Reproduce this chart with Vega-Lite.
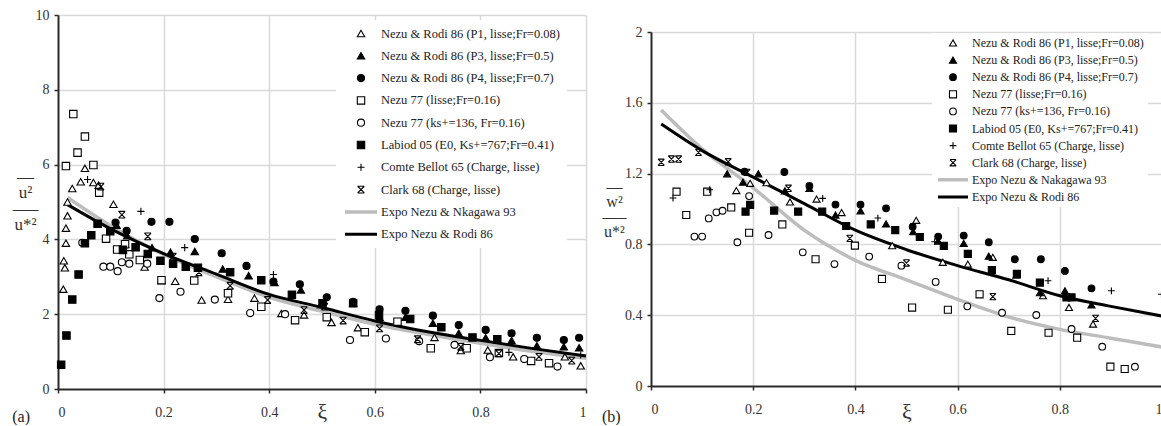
{
"$schema": "https://vega.github.io/schema/vega-lite/v6.json",
"background": "white",
"padding": {"left": 12, "top": 8, "right": 0, "bottom": 0},
"spacing": 9,
"config": {
  "view": {"stroke": null},
  "font": "Liberation Serif",
  "axis": {"labelFont": "Liberation Serif", "labelFontSize": 14, "labelColor": "#333", "domainColor": "#2a2a2a", "domainWidth": 2, "tickColor": "#2a2a2a", "tickSize": 4, "tickWidth": 1.5, "gridColor": "#d9d9d9", "gridWidth": 1.5, "gridOpacity": {"condition": {"test": "datum.value === 0", "value": 0}, "value": 1}, "titleFont": "Liberation Serif", "titleFontWeight": "normal", "titleColor": "#333"},
  "axisX": {"labelPadding": 12, "titleFontSize": 22, "titleBaseline": "middle", "titleY": 22},
  "axisY": {"labelPadding": 5, "titleAngle": 0, "titleAlign": "center", "titleBaseline": "alphabetic"},
  "legend": {"labelFont": "Liberation Serif", "labelColor": "#222", "labelLimit": 400, "fillColor": "white", "labelOffset": 2, "symbolOffset": 0},
  "title": {"font": "Liberation Serif", "fontSize": 16, "fontWeight": "normal", "color": "#222", "orient": "bottom", "anchor": "start", "frame": "bounds", "offset": 0, "dy": -17}
},
"datasets": {
  "na": [
    {"s": "P1", "name": "Nezu & Rodi 86 (P1, lisse;Fr=0.08)"},
    {"s": "P3", "name": "Nezu & Rodi 86 (P3, lisse;Fr=0.5)"},
    {"s": "P4", "name": "Nezu & Rodi 86 (P4, lisse;Fr=0.7)"},
    {"s": "N77", "name": "Nezu 77 (lisse;Fr=0.16)"},
    {"s": "N77ks", "name": "Nezu 77 (ks+=136, Fr=0.16)"},
    {"s": "Lab", "name": "Labiod 05 (E0, Ks+=767;Fr=0.41)"},
    {"s": "CB", "name": "Comte Bellot 65 (Charge, lisse)"},
    {"s": "Cl", "name": "Clark 68 (Charge, lisse)"},
    {"s": "ExNk", "name": "Expo Nezu & Nkagawa 93"},
    {"s": "ExNR", "name": "Expo Nezu & Rodi 86"}
  ],
  "nb": [
    {"s": "P1", "name": "Nezu & Rodi 86 (P1, lisse;Fr=0.08)"},
    {"s": "P3", "name": "Nezu & Rodi 86 (P3, lisse;Fr=0.5)"},
    {"s": "P4", "name": "Nezu & Rodi 86 (P4, lisse;Fr=0.7)"},
    {"s": "N77", "name": "Nezu 77 (lisse;Fr=0.16)"},
    {"s": "N77ks", "name": "Nezu 77 (ks+=136, Fr=0.16)"},
    {"s": "Lab", "name": "Labiod 05 (E0, Ks+=767;Fr=0.41)"},
    {"s": "CB", "name": "Comte Bellot 65 (Charge, lisse)"},
    {"s": "Cl", "name": "Clark 68 (Charge, lisse)"},
    {"s": "ExNk", "name": "Expo Nezu & Nakagawa 93"},
    {"s": "ExNR", "name": "Expo Nezu & Rodi 86"}
  ],
  "pa": [
    {"s":"P1","x":0.010,"y":2.67},{"s":"P1","x":0.011,"y":3.43},{"s":"P1","x":0.013,"y":3.24},{"s":"P1","x":0.015,"y":3.9},{"s":"P1","x":0.015,"y":4.3},{"s":"P1","x":0.018,"y":4.63},{"s":"P1","x":0.018,"y":5.0},{"s":"P1","x":0.027,"y":5.36},{"s":"P1","x":0.043,"y":5.54},{"s":"P1","x":0.051,"y":5.9},{"s":"P1","x":0.067,"y":5.52},{"s":"P1","x":0.077,"y":5.45},{"s":"P1","x":0.105,"y":4.94},{"s":"P1","x":0.127,"y":3.87},{"s":"P1","x":0.164,"y":3.26},{"s":"P1","x":0.196,"y":2.9},{"s":"P1","x":0.222,"y":2.88},{"s":"P1","x":0.272,"y":2.38},{"s":"P1","x":0.322,"y":2.4},{"s":"P1","x":0.372,"y":2.43},{"s":"P1","x":0.423,"y":2.02},{"s":"P1","x":0.466,"y":1.98},{"s":"P1","x":0.518,"y":1.78},{"s":"P1","x":0.568,"y":1.64},{"s":"P1","x":0.713,"y":1.38},{"s":"P1","x":0.763,"y":1.03},{"s":"P1","x":0.814,"y":1.04},{"s":"P1","x":0.862,"y":0.86},{"s":"P1","x":0.96,"y":0.86},{"s":"P1","x":0.99,"y":0.62},
    {"s":"P3","x":0.111,"y":4.38},{"s":"P3","x":0.131,"y":4.1},{"s":"P3","x":0.178,"y":3.78},{"s":"P3","x":0.213,"y":3.66},{"s":"P3","x":0.259,"y":3.68},{"s":"P3","x":0.312,"y":3.21},{"s":"P3","x":0.361,"y":3.03},{"s":"P3","x":0.41,"y":2.85},{"s":"P3","x":0.46,"y":2.65},{"s":"P3","x":0.498,"y":2.25},{"s":"P3","x":0.559,"y":2.3},{"s":"P3","x":0.609,"y":1.92},{"s":"P3","x":0.658,"y":1.92},{"s":"P3","x":0.71,"y":1.76},{"s":"P3","x":0.759,"y":1.49},{"s":"P3","x":0.81,"y":1.37},{"s":"P3","x":0.859,"y":1.3},{"s":"P3","x":0.907,"y":1.16},{"s":"P3","x":0.958,"y":1.13},{"s":"P3","x":0.987,"y":1.1},
    {"s":"P4","x":0.109,"y":4.45},{"s":"P4","x":0.13,"y":4.23},{"s":"P4","x":0.177,"y":4.47},{"s":"P4","x":0.211,"y":4.47},{"s":"P4","x":0.259,"y":4.01},{"s":"P4","x":0.31,"y":3.63},{"s":"P4","x":0.357,"y":3.29},{"s":"P4","x":0.408,"y":2.87},{"s":"P4","x":0.458,"y":2.8},{"s":"P4","x":0.509,"y":2.45},{"s":"P4","x":0.559,"y":2.33},{"s":"P4","x":0.609,"y":2.13},{"s":"P4","x":0.658,"y":2.09},{"s":"P4","x":0.71,"y":1.96},{"s":"P4","x":0.759,"y":1.71},{"s":"P4","x":0.81,"y":1.58},{"s":"P4","x":0.859,"y":1.49},{"s":"P4","x":0.907,"y":1.37},{"s":"P4","x":0.958,"y":1.31},{"s":"P4","x":0.987,"y":1.37},
    {"s":"N77","x":0.015,"y":5.96},{"s":"N77","x":0.029,"y":7.35},{"s":"N77","x":0.037,"y":6.32},{"s":"N77","x":0.051,"y":6.75},{"s":"N77","x":0.067,"y":5.99},{"s":"N77","x":0.078,"y":5.25},{"s":"N77","x":0.091,"y":4.02},{"s":"N77","x":0.112,"y":3.73},{"s":"N77","x":0.127,"y":3.87},{"s":"N77","x":0.135,"y":3.6},{"s":"N77","x":0.155,"y":3.45},{"s":"N77","x":0.196,"y":2.91},{"s":"N77","x":0.258,"y":2.9},{"s":"N77","x":0.322,"y":2.56},{"s":"N77","x":0.385,"y":2.2},{"s":"N77","x":0.449,"y":1.84},{"s":"N77","x":0.509,"y":1.92},{"s":"N77","x":0.581,"y":1.52},{"s":"N77","x":0.643,"y":1.8},{"s":"N77","x":0.706,"y":1.09},{"s":"N77","x":0.774,"y":1.09},{"s":"N77","x":0.835,"y":0.96},{"s":"N77","x":0.896,"y":0.75},{"s":"N77","x":0.93,"y":0.69},
    {"s":"N77ks","x":0.046,"y":3.91},{"s":"N77ks","x":0.086,"y":3.27},{"s":"N77ks","x":0.099,"y":3.27},{"s":"N77ks","x":0.113,"y":3.15},{"s":"N77ks","x":0.121,"y":3.39},{"s":"N77ks","x":0.135,"y":3.35},{"s":"N77ks","x":0.169,"y":3.35},{"s":"N77ks","x":0.192,"y":2.43},{"s":"N77ks","x":0.232,"y":2.6},{"s":"N77ks","x":0.297,"y":2.39},{"s":"N77ks","x":0.364,"y":2.03},{"s":"N77ks","x":0.43,"y":2.0},{"s":"N77ks","x":0.553,"y":1.31},{"s":"N77ks","x":0.621,"y":1.35},{"s":"N77ks","x":0.684,"y":1.28},{"s":"N77ks","x":0.751,"y":1.18},{"s":"N77ks","x":0.818,"y":0.85},{"s":"N77ks","x":0.883,"y":0.8},{"s":"N77ks","x":0.946,"y":0.6},
    {"s":"Lab","x":0.006,"y":0.65},{"s":"Lab","x":0.016,"y":1.43},{"s":"Lab","x":0.027,"y":2.39},{"s":"Lab","x":0.039,"y":3.06},{"s":"Lab","x":0.051,"y":3.9},{"s":"Lab","x":0.063,"y":4.11},{"s":"Lab","x":0.075,"y":4.42},{"s":"Lab","x":0.099,"y":4.22},{"s":"Lab","x":0.123,"y":3.72},{"s":"Lab","x":0.147,"y":3.79},{"s":"Lab","x":0.17,"y":3.61},{"s":"Lab","x":0.194,"y":3.43},{"s":"Lab","x":0.218,"y":3.35},{"s":"Lab","x":0.242,"y":3.27},{"s":"Lab","x":0.265,"y":3.24},{"s":"Lab","x":0.326,"y":3.12},{"s":"Lab","x":0.385,"y":2.91},{"s":"Lab","x":0.443,"y":2.52},{"s":"Lab","x":0.501,"y":2.29},{"s":"Lab","x":0.559,"y":2.29},{"s":"Lab","x":0.608,"y":1.98},{"s":"Lab","x":0.667,"y":1.87},{"s":"Lab","x":0.726,"y":1.65},{"s":"Lab","x":0.785,"y":1.38},{"s":"Lab","x":0.832,"y":1.33},
    {"s":"CB","x":0.056,"y":5.6},{"s":"CB","x":0.157,"y":4.75},{"s":"CB","x":0.24,"y":3.78},{"s":"CB","x":0.408,"y":3.06},{"s":"CB","x":0.854,"y":0.98},{"s":"CB","x":0.99,"y":0.91},
    {"s":"Cl","x":0.081,"y":5.41},{"s":"Cl","x":0.121,"y":4.66},{"s":"Cl","x":0.17,"y":4.08},{"s":"Cl","x":0.218,"y":3.54},{"s":"Cl","x":0.267,"y":3.12},{"s":"Cl","x":0.326,"y":2.76},{"s":"Cl","x":0.397,"y":2.38},{"s":"Cl","x":0.466,"y":2.11},{"s":"Cl","x":0.505,"y":2.2},{"s":"Cl","x":0.54,"y":1.83},{"s":"Cl","x":0.609,"y":1.62},{"s":"Cl","x":0.681,"y":1.33},{"s":"Cl","x":0.763,"y":1.13},{"s":"Cl","x":0.835,"y":0.95},{"s":"Cl","x":0.911,"y":0.86},{"s":"Cl","x":0.973,"y":0.76}
  ],
  "ca": [
    {"s":"ExNk","x":0.018,"y":5.12},{"s":"ExNk","x":0.1,"y":4.36},{"s":"ExNk","x":0.2,"y":3.6},{"s":"ExNk","x":0.3,"y":3.0},{"s":"ExNk","x":0.4,"y":2.45},{"s":"ExNk","x":0.5,"y":2.08},{"s":"ExNk","x":0.6,"y":1.73},{"s":"ExNk","x":0.7,"y":1.46},{"s":"ExNk","x":0.8,"y":1.22},{"s":"ExNk","x":0.9,"y":1.0},{"s":"ExNk","x":1.0,"y":0.82},
    {"s":"ExNR","x":0.018,"y":4.93},{"s":"ExNR","x":0.1,"y":4.28},{"s":"ExNR","x":0.2,"y":3.62},{"s":"ExNR","x":0.3,"y":3.07},{"s":"ExNR","x":0.4,"y":2.53},{"s":"ExNR","x":0.5,"y":2.18},{"s":"ExNR","x":0.6,"y":1.82},{"s":"ExNR","x":0.7,"y":1.53},{"s":"ExNR","x":0.8,"y":1.3},{"s":"ExNR","x":0.9,"y":1.08},{"s":"ExNR","x":1.0,"y":0.88}
  ],
  "pb": [
    {"s":"P1","x":0.167,"y":1.104},{"s":"P1","x":0.194,"y":1.145},{"s":"P1","x":0.226,"y":1.149},{"s":"P1","x":0.272,"y":1.04},{"s":"P1","x":0.324,"y":1.056},{"s":"P1","x":0.373,"y":0.98},{"s":"P1","x":0.472,"y":0.793},{"s":"P1","x":0.519,"y":0.936},{"s":"P1","x":0.571,"y":0.699},{"s":"P1","x":0.62,"y":0.689},{"s":"P1","x":0.669,"y":0.727},{"s":"P1","x":0.767,"y":0.51},{"s":"P1","x":0.818,"y":0.444},{"s":"P1","x":0.865,"y":0.35},
    {"s":"P3","x":0.149,"y":1.199},{"s":"P3","x":0.18,"y":1.152},{"s":"P3","x":0.21,"y":1.199},{"s":"P3","x":0.262,"y":1.103},{"s":"P3","x":0.31,"y":1.117},{"s":"P3","x":0.361,"y":0.966},{"s":"P3","x":0.41,"y":0.99},{"s":"P3","x":0.46,"y":0.916},{"s":"P3","x":0.513,"y":0.872},{"s":"P3","x":0.562,"y":0.819},{"s":"P3","x":0.612,"y":0.806},{"s":"P3","x":0.661,"y":0.734},{"s":"P3","x":0.715,"y":0.627},{"s":"P3","x":0.761,"y":0.527},{"s":"P3","x":0.81,"y":0.538},{"s":"P3","x":0.862,"y":0.458},
    {"s":"P4","x":0.183,"y":1.211},{"s":"P4","x":0.261,"y":1.209},{"s":"P4","x":0.31,"y":1.13},{"s":"P4","x":0.361,"y":1.025},{"s":"P4","x":0.41,"y":1.025},{"s":"P4","x":0.46,"y":1.004},{"s":"P4","x":0.512,"y":0.9},{"s":"P4","x":0.562,"y":0.844},{"s":"P4","x":0.612,"y":0.85},{"s":"P4","x":0.661,"y":0.812},{"s":"P4","x":0.712,"y":0.716},{"s":"P4","x":0.763,"y":0.716},{"s":"P4","x":0.81,"y":0.65},{"s":"P4","x":0.862,"y":0.552},
    {"s":"N77","x":0.05,"y":1.098},{"s":"N77","x":0.069,"y":0.966},{"s":"N77","x":0.11,"y":1.098},{"s":"N77","x":0.157,"y":1.009},{"s":"N77","x":0.192,"y":0.866},{"s":"N77","x":0.257,"y":0.913},{"s":"N77","x":0.322,"y":0.716},{"s":"N77","x":0.399,"y":0.793},{"s":"N77","x":0.452,"y":0.605},{"s":"N77","x":0.511,"y":0.443},{"s":"N77","x":0.581,"y":0.431},{"s":"N77","x":0.643,"y":0.518},{"s":"N77","x":0.705,"y":0.311},{"s":"N77","x":0.778,"y":0.301},{"s":"N77","x":0.834,"y":0.273},{"s":"N77","x":0.899,"y":0.109},{"s":"N77","x":0.927,"y":0.096},
    {"s":"N77ks","x":0.085,"y":0.844},{"s":"N77ks","x":0.1,"y":0.844},{"s":"N77ks","x":0.113,"y":0.947},{"s":"N77ks","x":0.128,"y":0.981},{"s":"N77ks","x":0.14,"y":0.99},{"s":"N77ks","x":0.169,"y":0.812},{"s":"N77ks","x":0.192,"y":1.073},{"s":"N77ks","x":0.23,"y":0.853},{"s":"N77ks","x":0.297,"y":0.755},{"s":"N77ks","x":0.359,"y":0.689},{"s":"N77ks","x":0.427,"y":0.731},{"s":"N77ks","x":0.49,"y":0.68},{"s":"N77ks","x":0.557,"y":0.588},{"s":"N77ks","x":0.619,"y":0.45},{"s":"N77ks","x":0.687,"y":0.414},{"s":"N77ks","x":0.754,"y":0.401},{"s":"N77ks","x":0.823,"y":0.322},{"s":"N77ks","x":0.883,"y":0.222},{"s":"N77ks","x":0.947,"y":0.109},
    {"s":"Lab","x":0.185,"y":0.985},{"s":"Lab","x":0.194,"y":1.023},{"s":"Lab","x":0.241,"y":0.991},{"s":"Lab","x":0.288,"y":0.985},{"s":"Lab","x":0.335,"y":0.985},{"s":"Lab","x":0.382,"y":0.904},{"s":"Lab","x":0.43,"y":0.913},{"s":"Lab","x":0.478,"y":0.881},{"s":"Lab","x":0.526,"y":0.842},{"s":"Lab","x":0.573,"y":0.792},{"s":"Lab","x":0.62,"y":0.746},{"s":"Lab","x":0.667,"y":0.655},{"s":"Lab","x":0.716,"y":0.633},{"s":"Lab","x":0.761,"y":0.584},{"s":"Lab","x":0.813,"y":0.501},{"s":"Lab","x":0.823,"y":0.501},
    {"s":"CB","x":0.043,"y":1.062},{"s":"CB","x":0.115,"y":1.109},{"s":"CB","x":0.336,"y":1.06},{"s":"CB","x":0.444,"y":0.949},{"s":"CB","x":0.555,"y":0.815},{"s":"CB","x":0.777,"y":0.595},{"s":"CB","x":0.901,"y":0.538},{"s":"CB","x":0.999,"y":0.518},
    {"s":"Cl","x":0.02,"y":1.264},{"s":"Cl","x":0.04,"y":1.282},{"s":"Cl","x":0.054,"y":1.282},{"s":"Cl","x":0.093,"y":1.32},{"s":"Cl","x":0.151,"y":1.267},{"s":"Cl","x":0.188,"y":1.207},{"s":"Cl","x":0.269,"y":1.117},{"s":"Cl","x":0.389,"y":0.834},{"s":"Cl","x":0.5,"y":0.695},{"s":"Cl","x":0.669,"y":0.505},{"s":"Cl","x":0.87,"y":0.382}
  ],
  "cb": [
    {"s":"ExNk","x":0.02,"y":1.56},{"s":"ExNk","x":0.1,"y":1.34},{"s":"ExNk","x":0.2,"y":1.12},{"s":"ExNk","x":0.3,"y":0.88},{"s":"ExNk","x":0.4,"y":0.71},{"s":"ExNk","x":0.5,"y":0.6},{"s":"ExNk","x":0.6,"y":0.49},{"s":"ExNk","x":0.7,"y":0.39},{"s":"ExNk","x":0.8,"y":0.32},{"s":"ExNk","x":0.9,"y":0.27},{"s":"ExNk","x":1.0,"y":0.22},
    {"s":"ExNR","x":0.02,"y":1.48},{"s":"ExNR","x":0.1,"y":1.33},{"s":"ExNR","x":0.2,"y":1.18},{"s":"ExNR","x":0.3,"y":1.03},{"s":"ExNR","x":0.4,"y":0.88},{"s":"ExNR","x":0.5,"y":0.77},{"s":"ExNR","x":0.6,"y":0.68},{"s":"ExNR","x":0.7,"y":0.6},{"s":"ExNR","x":0.8,"y":0.51},{"s":"ExNR","x":0.9,"y":0.45},{"s":"ExNR","x":1.0,"y":0.395}
  ]
},
"resolve": {"scale": {"shape": "independent", "fill": "independent", "stroke": "independent", "size": "independent", "strokeWidth": "independent"}, "legend": {"shape": "independent", "fill": "independent", "stroke": "independent", "size": "independent", "strokeWidth": "independent"}},
"hconcat": [
{
  "width": 528, "height": 374,
  "title": {"text": "(a)"},
  "encoding": {
    "x": {"field": "x", "type": "quantitative", "scale": {"domain": [0, 1], "nice": false}, "axis": {"values": [0, 0.2, 0.4, 0.6, 0.8, 1], "format": ".1~f", "title": "ξ"}},
    "y": {"field": "y", "type": "quantitative", "scale": {"domain": [0, 10], "nice": false}, "axis": {"values": [0, 2, 4, 6, 8, 10], "title": ["—", "u²", "—–", "u*²"], "titleX": -33, "titleY": 166, "titleLineHeight": 16, "titleFontSize": 17}},
    "stroke": {"field": "name", "type": "nominal", "title": null, "scale": {"domain": ["Nezu & Rodi 86 (P1, lisse;Fr=0.08)", "Nezu & Rodi 86 (P3, lisse;Fr=0.5)", "Nezu & Rodi 86 (P4, lisse;Fr=0.7)", "Nezu 77 (lisse;Fr=0.16)", "Nezu 77 (ks+=136, Fr=0.16)", "Labiod 05 (E0, Ks+=767;Fr=0.41)", "Comte Bellot 65 (Charge, lisse)", "Clark 68 (Charge, lisse)", "Expo Nezu & Nkagawa 93", "Expo Nezu & Rodi 86"], "range": ["black", "black", "black", "black", "black", "black", "black", "black", "#bdbdbd", "black"]}, "legend": {"orient": "none", "legendX": 278, "legendY": 5, "padding": 7, "rowPadding": 9.3, "clipHeight": 13, "labelFontSize": 12.5}},
    "strokeWidth": {"field": "name", "type": "nominal", "title": null, "scale": {"type": "ordinal", "domain": ["Nezu & Rodi 86 (P1, lisse;Fr=0.08)", "Nezu & Rodi 86 (P3, lisse;Fr=0.5)", "Nezu & Rodi 86 (P4, lisse;Fr=0.7)", "Nezu 77 (lisse;Fr=0.16)", "Nezu 77 (ks+=136, Fr=0.16)", "Labiod 05 (E0, Ks+=767;Fr=0.41)", "Comte Bellot 65 (Charge, lisse)", "Clark 68 (Charge, lisse)", "Expo Nezu & Nkagawa 93", "Expo Nezu & Rodi 86"], "range": [1.1, 1.1, 1.1, 1.1, 1.1, 1.1, 1.1, 1.1, 3.5, 3]}, "legend": {"orient": "none", "legendX": 278, "legendY": 5, "padding": 7, "rowPadding": 9.3, "clipHeight": 13, "labelFontSize": 12.5}}
  },
  "layer": [
    {
      "data": {"name": "ca"},
      "transform": [{"lookup": "s", "from": {"data": {"name": "na"}, "key": "s", "fields": ["name"]}}],
      "mark": {"type": "line", "interpolate": "monotone"}
    },
    {
      "data": {"name": "pa"},
      "transform": [{"lookup": "s", "from": {"data": {"name": "na"}, "key": "s", "fields": ["name"]}}],
      "mark": {"type": "point", "opacity": 1},
      "encoding": {
        "shape": {"field": "name", "type": "nominal", "title": null, "scale": {"domain": ["Nezu & Rodi 86 (P1, lisse;Fr=0.08)", "Nezu & Rodi 86 (P3, lisse;Fr=0.5)", "Nezu & Rodi 86 (P4, lisse;Fr=0.7)", "Nezu 77 (lisse;Fr=0.16)", "Nezu 77 (ks+=136, Fr=0.16)", "Labiod 05 (E0, Ks+=767;Fr=0.41)", "Comte Bellot 65 (Charge, lisse)", "Clark 68 (Charge, lisse)", "Expo Nezu & Nkagawa 93", "Expo Nezu & Rodi 86"], "range": ["triangle-up", "triangle-up", "circle", "square", "circle", "square", "M-1,0H1M0,-1V1", "M-1,-1L1,1M1,-1L-1,1M-1,-1H1M-1,1H1", "stroke", "stroke"]}, "legend": {"orient": "none", "legendX": 278, "legendY": 5, "padding": 7, "rowPadding": 9.3, "clipHeight": 13, "labelFontSize": 12.5}},
        "fill": {"field": "name", "type": "nominal", "title": null, "scale": {"domain": ["Nezu & Rodi 86 (P1, lisse;Fr=0.08)", "Nezu & Rodi 86 (P3, lisse;Fr=0.5)", "Nezu & Rodi 86 (P4, lisse;Fr=0.7)", "Nezu 77 (lisse;Fr=0.16)", "Nezu 77 (ks+=136, Fr=0.16)", "Labiod 05 (E0, Ks+=767;Fr=0.41)", "Comte Bellot 65 (Charge, lisse)", "Clark 68 (Charge, lisse)", "Expo Nezu & Nkagawa 93", "Expo Nezu & Rodi 86"], "range": ["white", "black", "black", "white", "white", "black", "transparent", "transparent", "transparent", "transparent"]}, "legend": {"orient": "none", "legendX": 278, "legendY": 5, "padding": 7, "rowPadding": 9.3, "clipHeight": 13, "labelFontSize": 12.5}},
        "size": {"field": "name", "type": "nominal", "title": null, "scale": {"type": "ordinal", "domain": ["Nezu & Rodi 86 (P1, lisse;Fr=0.08)", "Nezu & Rodi 86 (P3, lisse;Fr=0.5)", "Nezu & Rodi 86 (P4, lisse;Fr=0.7)", "Nezu 77 (lisse;Fr=0.16)", "Nezu 77 (ks+=136, Fr=0.16)", "Labiod 05 (E0, Ks+=767;Fr=0.41)", "Comte Bellot 65 (Charge, lisse)", "Clark 68 (Charge, lisse)", "Expo Nezu & Nkagawa 93", "Expo Nezu & Rodi 86"], "range": [55, 55, 50, 55, 50, 55, 50, 45, 1024, 1024]}, "legend": {"orient": "none", "legendX": 278, "legendY": 5, "padding": 7, "rowPadding": 9.3, "clipHeight": 13, "labelFontSize": 12.5}}
      }
    }
  ]
},
{
  "spacing": 0,
  "vconcat": [
    {"width": 10, "height": 10, "data": {"values": []}, "mark": "point"},
    {
      "width": 511, "height": 354,
      "title": {"text": "(b)"},
      "encoding": {
        "x": {"field": "x", "type": "quantitative", "scale": {"domain": [0, 1], "nice": false}, "axis": {"values": [0, 0.2, 0.4, 0.6, 0.8, 1], "format": ".1~f", "title": "ξ", "titleY": 25}},
        "y": {"field": "y", "type": "quantitative", "scale": {"domain": [0, 2], "nice": false}, "axis": {"values": [0, 0.4, 0.8, 1.2, 1.6, 2], "format": ".1~f", "title": ["—", "w²", "—–", "u*²"], "titleX": -37, "titleY": 159, "titleLineHeight": 15, "titleFontSize": 16}},
        "stroke": {"field": "name", "type": "nominal", "title": null, "scale": {"domain": ["Nezu & Rodi 86 (P1, lisse;Fr=0.08)", "Nezu & Rodi 86 (P3, lisse;Fr=0.5)", "Nezu & Rodi 86 (P4, lisse;Fr=0.7)", "Nezu 77 (lisse;Fr=0.16)", "Nezu 77 (ks+=136, Fr=0.16)", "Labiod 05 (E0, Ks+=767;Fr=0.41)", "Comte Bellot 65 (Charge, lisse)", "Clark 68 (Charge, lisse)", "Expo Nezu & Nakagawa 93", "Expo Nezu & Rodi 86"], "range": ["black", "black", "black", "black", "black", "black", "black", "black", "#bdbdbd", "black"]}, "legend": {"orient": "none", "legendX": 281, "legendY": 18, "padding": 4, "rowPadding": 5.1, "clipHeight": 12, "labelFontSize": 12}},
        "strokeWidth": {"field": "name", "type": "nominal", "title": null, "scale": {"type": "ordinal", "domain": ["Nezu & Rodi 86 (P1, lisse;Fr=0.08)", "Nezu & Rodi 86 (P3, lisse;Fr=0.5)", "Nezu & Rodi 86 (P4, lisse;Fr=0.7)", "Nezu 77 (lisse;Fr=0.16)", "Nezu 77 (ks+=136, Fr=0.16)", "Labiod 05 (E0, Ks+=767;Fr=0.41)", "Comte Bellot 65 (Charge, lisse)", "Clark 68 (Charge, lisse)", "Expo Nezu & Nakagawa 93", "Expo Nezu & Rodi 86"], "range": [1.1, 1.1, 1.1, 1.1, 1.1, 1.1, 1.1, 1.1, 3.5, 3]}, "legend": {"orient": "none", "legendX": 281, "legendY": 18, "padding": 4, "rowPadding": 5.1, "clipHeight": 12, "labelFontSize": 12}}
      },
      "layer": [
        {
          "data": {"name": "cb"},
          "transform": [{"lookup": "s", "from": {"data": {"name": "nb"}, "key": "s", "fields": ["name"]}}],
          "mark": {"type": "line", "interpolate": "monotone"}
        },
        {
          "data": {"name": "pb"},
          "transform": [{"lookup": "s", "from": {"data": {"name": "nb"}, "key": "s", "fields": ["name"]}}],
          "mark": {"type": "point", "opacity": 1},
          "encoding": {
            "shape": {"field": "name", "type": "nominal", "title": null, "scale": {"domain": ["Nezu & Rodi 86 (P1, lisse;Fr=0.08)", "Nezu & Rodi 86 (P3, lisse;Fr=0.5)", "Nezu & Rodi 86 (P4, lisse;Fr=0.7)", "Nezu 77 (lisse;Fr=0.16)", "Nezu 77 (ks+=136, Fr=0.16)", "Labiod 05 (E0, Ks+=767;Fr=0.41)", "Comte Bellot 65 (Charge, lisse)", "Clark 68 (Charge, lisse)", "Expo Nezu & Nakagawa 93", "Expo Nezu & Rodi 86"], "range": ["triangle-up", "triangle-up", "circle", "square", "circle", "square", "M-1,0H1M0,-1V1", "M-1,-1L1,1M1,-1L-1,1M-1,-1H1M-1,1H1", "stroke", "stroke"]}, "legend": {"orient": "none", "legendX": 281, "legendY": 18, "padding": 4, "rowPadding": 5.1, "clipHeight": 12, "labelFontSize": 12}},
            "fill": {"field": "name", "type": "nominal", "title": null, "scale": {"domain": ["Nezu & Rodi 86 (P1, lisse;Fr=0.08)", "Nezu & Rodi 86 (P3, lisse;Fr=0.5)", "Nezu & Rodi 86 (P4, lisse;Fr=0.7)", "Nezu 77 (lisse;Fr=0.16)", "Nezu 77 (ks+=136, Fr=0.16)", "Labiod 05 (E0, Ks+=767;Fr=0.41)", "Comte Bellot 65 (Charge, lisse)", "Clark 68 (Charge, lisse)", "Expo Nezu & Nakagawa 93", "Expo Nezu & Rodi 86"], "range": ["white", "black", "black", "white", "white", "black", "transparent", "transparent", "transparent", "transparent"]}, "legend": {"orient": "none", "legendX": 281, "legendY": 18, "padding": 4, "rowPadding": 5.1, "clipHeight": 12, "labelFontSize": 12}},
            "size": {"field": "name", "type": "nominal", "title": null, "scale": {"type": "ordinal", "domain": ["Nezu & Rodi 86 (P1, lisse;Fr=0.08)", "Nezu & Rodi 86 (P3, lisse;Fr=0.5)", "Nezu & Rodi 86 (P4, lisse;Fr=0.7)", "Nezu 77 (lisse;Fr=0.16)", "Nezu 77 (ks+=136, Fr=0.16)", "Labiod 05 (E0, Ks+=767;Fr=0.41)", "Comte Bellot 65 (Charge, lisse)", "Clark 68 (Charge, lisse)", "Expo Nezu & Nakagawa 93", "Expo Nezu & Rodi 86"], "range": [50, 50, 45, 50, 45, 50, 45, 40, 900, 900]}, "legend": {"orient": "none", "legendX": 281, "legendY": 18, "padding": 4, "rowPadding": 5.1, "clipHeight": 12, "labelFontSize": 12}}
          }
        }
      ]
    }
  ]
}
]
}
